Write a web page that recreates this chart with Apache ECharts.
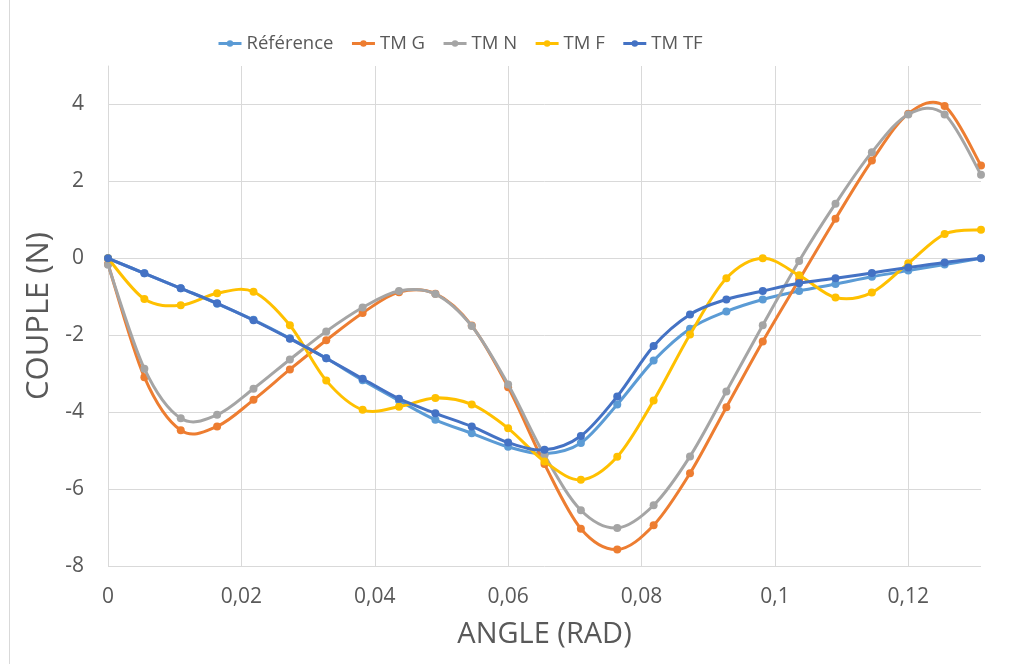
<!DOCTYPE html>
<html>
<head>
<meta charset="utf-8">
<script src="https://cdn.jsdelivr.net/npm/echarts@6/dist/echarts.min.js"></script>
<style>
html,body{margin:0;padding:0;background:#fff;}
#chart{width:1011px;height:664px;}
</style>
</head>
<body>
<div id="chart"></div>
<script>
const angles = [0, 0.005454, 0.010908, 0.016363, 0.021817, 0.027271, 0.032725, 0.038179, 0.043633, 0.049088, 0.054542, 0.059996, 0.06545, 0.070904, 0.076358, 0.081813, 0.087267, 0.092721, 0.098175, 0.103629, 0.109083, 0.114538, 0.119992, 0.125446, 0.1309];
const reference = [0, -0.39, -0.78, -1.18, -1.60, -2.08, -2.60, -3.17, -3.70, -4.20, -4.55, -4.90, -5.08, -4.80, -3.80, -2.66, -1.83, -1.38, -1.07, -0.85, -0.67, -0.48, -0.32, -0.16, 0];
const tmG = [-0.15, -3.09, -4.47, -4.37, -3.68, -2.89, -2.13, -1.42, -0.88, -0.92, -1.75, -3.35, -5.35, -7.03, -7.57, -6.94, -5.59, -3.87, -2.16, -0.56, 1.03, 2.54, 3.76, 3.96, 2.41];
const tmN = [-0.17, -2.87, -4.16, -4.07, -3.39, -2.63, -1.90, -1.28, -0.85, -0.93, -1.76, -3.28, -5.12, -6.55, -7.01, -6.42, -5.15, -3.46, -1.74, -0.07, 1.42, 2.76, 3.74, 3.74, 2.17];
const tmF = [0, -1.06, -1.22, -0.91, -0.87, -1.74, -3.18, -3.94, -3.86, -3.63, -3.80, -4.42, -5.28, -5.76, -5.16, -3.70, -1.98, -0.52, 0.0, -0.44, -1.02, -0.89, -0.13, 0.63, 0.74];
const tmTF = [0, -0.39, -0.78, -1.17, -1.61, -2.09, -2.60, -3.13, -3.65, -4.03, -4.37, -4.79, -4.98, -4.62, -3.59, -2.28, -1.46, -1.07, -0.85, -0.65, -0.52, -0.38, -0.24, -0.11, 0];
const seriesNames = ['Référence', 'TM G', 'TM N', 'TM F', 'TM TF'];
const seriesValues = [reference, tmG, tmN, tmF, tmTF];
const colors = ['#5B9BD5', '#ED7D31', '#A5A5A5', '#FFC000', '#4472C4'];
const xTicks = [0, 0.02, 0.04, 0.06, 0.08, 0.1, 0.12];
const yTicks = [-8, -6, -4, -2, 0, 2, 4];

const FONT = '"Open Sans", sans-serif';
const TXT = '#595959';
const GRID = '#d9d9d9';
const LW = 3;

// Smooth curve (Catmull-Rom style, like Excel's smoothed lines) through the
// points, positioned with the chart's own axes via api.coord.
function makeCurveRenderer(values, color) {
  return function (params, api) {
    if (params.dataIndex !== 0) return null;
    const pts = angles.map((a, k) => api.coord([a, values[k]]));
    const n = pts.length;
    let d = 'M' + pts[0][0] + ' ' + pts[0][1];
    for (let i = 0; i < n - 1; i++) {
      const p0 = pts[Math.max(i - 1, 0)];
      const p1 = pts[i];
      const p2 = pts[i + 1];
      const p3 = pts[Math.min(i + 2, n - 1)];
      const c1x = p1[0] + (p2[0] - p0[0]) / 6;
      const c1y = p1[1] + (p2[1] - p0[1]) / 6;
      const c2x = p2[0] - (p3[0] - p1[0]) / 6;
      const c2y = p2[1] - (p3[1] - p1[1]) / 6;
      d += ' C' + c1x + ' ' + c1y + ' ' + c2x + ' ' + c2y + ' ' + p2[0] + ' ' + p2[1];
    }
    return {
      type: 'path',
      shape: {pathData: d},
      style: {stroke: color, lineWidth: LW, fill: null, lineJoin: 'round', lineCap: 'round'},
      silent: true
    };
  };
}

const chart = echarts.init(document.getElementById('chart'), null, {renderer: 'canvas'});
const markerSeries = seriesNames.map((name, i) => ({
  name: name,
  type: 'line',
  data: angles.map((a, k) => [a, seriesValues[i][k]]),
  symbol: 'circle',
  symbolSize: 8,
  showSymbol: true,
  lineStyle: {width: LW, color: colors[i], opacity: 0},
  itemStyle: {color: colors[i]},
  emphasis: {disabled: true},
  z: 3 + 2 * i
}));
const curveSeries = seriesNames.map((name, i) => ({
  name: name,
  type: 'custom',
  data: angles.map((a, k) => [a, seriesValues[i][k]]),
  renderItem: makeCurveRenderer(seriesValues[i], colors[i]),
  encode: {x: 0, y: 1},
  clip: true,
  z: 2 + 2 * i
}));

chart.setOption({
  animation: false,
  backgroundColor: '#fff',
  color: colors,
  graphic: [{
    type: 'line',
    shape: {x1: 9.5, y1: 0, x2: 9.5, y2: 664},
    style: {stroke: GRID, lineWidth: 1}
  }],
  legend: {
    left: 212,
    top: 29,
    itemWidth: 23,
    itemHeight: 8,
    itemGap: 17,
    lineStyle: {opacity: 1, width: LW},
    textStyle: {fontFamily: FONT, fontSize: 18.5, color: TXT},
    data: seriesNames
  },
  grid: {left: 108, right: 30, top: 66, bottom: 98, containLabel: false},
  xAxis: {
    type: 'value',
    min: 0,
    max: angles[angles.length - 1],
    interval: 0.02,
    name: 'ANGLE (RAD)',
    nameLocation: 'middle',
    nameGap: 54,
    nameTextStyle: {fontFamily: FONT, fontSize: 29, color: TXT},
    axisLine: {show: true, lineStyle: {color: GRID, width: 1}},
    axisTick: {show: false},
    splitLine: {show: true, showMaxLine: false, lineStyle: {color: GRID, width: 1}},
    axisLabel: {
      fontFamily: FONT, fontSize: 21, color: TXT, margin: 21,
      showMaxLabel: false,
      formatter: v => xTicks.some(t => Math.abs(t - v) < 1e-9) ? String(+v.toFixed(2)).replace('.', ',') : ''
    }
  },
  yAxis: {
    type: 'value',
    min: -8,
    max: 5,
    interval: 2,
    name: 'COUPLE (N)',
    nameLocation: 'middle',
    nameGap: 46,
    nameRotate: 90,
    nameTextStyle: {fontFamily: FONT, fontSize: 31, color: TXT},
    axisLine: {show: true, lineStyle: {color: GRID, width: 1}},
    axisTick: {show: false},
    splitLine: {show: true, showMaxLine: false, lineStyle: {color: GRID, width: 1}},
    axisLabel: {
      fontFamily: FONT, fontSize: 21, color: TXT, margin: 24,
      showMaxLabel: false,
      formatter: v => yTicks.indexOf(v) >= 0 ? String(v) : ''
    }
  },
  series: markerSeries.concat(curveSeries)
});
</script>
</body>
</html>
